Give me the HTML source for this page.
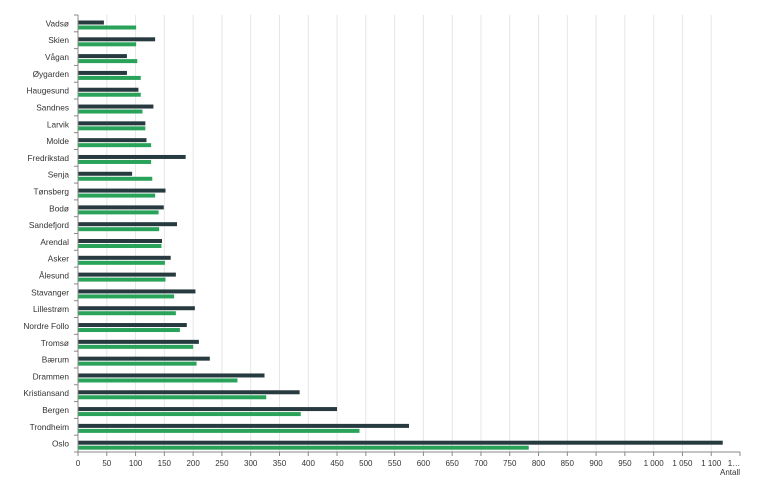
<!DOCTYPE html>
<html><head><meta charset="utf-8"><style>
body{margin:0;background:#fff;font-family:"Liberation Sans",sans-serif}
svg text{font-family:"Liberation Sans",sans-serif}
</style></head><body>
<svg width="768" height="486" viewBox="0 0 768 486" xmlns="http://www.w3.org/2000/svg">
<g id="grid"></g>
<g id="bars"></g>
<g id="yaxis"></g>
<g id="xaxis"></g>
<text x="740" y="475" font-size="8" fill="#333" text-anchor="end">Antall</text>
</svg>
<script>
const categories=["Vadsø","Skien","Vågan","Øygarden","Haugesund","Sandnes","Larvik","Molde","Fredrikstad","Senja","Tønsberg","Bodø","Sandefjord","Arendal","Asker","Ålesund","Stavanger","Lillestrøm","Nordre Follo","Tromsø","Bærum","Drammen","Kristiansand","Bergen","Trondheim","Oslo"];
const seriesDark=[45,134,85,85,105,131,117,119,187,94,152,149,172,146,161,170,204,203,189,210,229,324,385,450,575,1120];
const seriesGreen=[101,101,103,109,109,112,117,127,127,129,134,140,141,145,151,152,167,170,177,200,206,277,327,387,489,783];
const tickValues=[0,50,100,150,200,250,300,350,400,450,500,550,600,650,700,750,800,850,900,950,1000,1050,1100];
const tickLabels=["0","50","100","150","200","250","300","350","400","450","500","550","600","650","700","750","800","850","900","950","1 000","1 050","1 100"];
const NS="http://www.w3.org/2000/svg";
const x0=78,x1=740,maxV=1150,yTop=15,yBot=452;
const band=(yBot-yTop)/categories.length;
const xs=v=>x0+v/maxV*(x1-x0);
const yb=i=>yTop+i*band;
function mk(t,a,p){const e=document.createElementNS(NS,t);for(const k in a)e.setAttribute(k,a[k]);p.appendChild(e);return e;}
const grid=document.getElementById('grid'),bars=document.getElementById('bars'),ya=document.getElementById('yaxis'),xa=document.getElementById('xaxis');
tickValues.forEach((v,i)=>{
 if(v>0){const g=mk('line',{x1:xs(v),x2:xs(v),y1:yTop,y2:yBot,stroke:'#e6e6e6','stroke-width':1},grid);
 
 }
 const t=mk('line',{x1:xs(v),x2:xs(v),y1:yBot,y2:yBot+4,stroke:'#888'},xa);
 
 
 const l=mk('text',{x:xs(v),y:yBot+14,'font-size':8,fill:'#333','text-anchor':'middle'},xa);
 l.textContent=tickLabels[i];
 
 
});
const endL=mk('text',{x:x1-6,y:yBot+14,'font-size':8,fill:'#333','text-anchor':'middle'},xa);endL.textContent="1…";


mk('line',{x1:x1,x2:x1,y1:yBot,y2:yBot+4,stroke:'#888'},xa);
mk('line',{x1:x0,x2:x1,y1:yBot,y2:yBot,stroke:'#888'},xa);
mk('line',{x1:x0,x2:x0,y1:yTop,y2:yBot,stroke:'#888'},ya);
categories.forEach((c,i)=>{
 const y=yb(i);
 mk('line',{x1:x0-4,x2:x0,y1:y,y2:y,stroke:'#888'},ya);
 const t=mk('text',{x:69,y:y+band/2+3,'font-size':8.3,fill:'#333','text-anchor':'end'},ya);
 t.textContent=c;
 
 
 const d=mk('rect',{x:x0,y:y+5.5,width:xs(seriesDark[i])-x0,height:4,fill:'#263a3f'},bars);
 
 
 const g=mk('rect',{x:x0,y:y+10.5,width:xs(seriesGreen[i])-x0,height:4,fill:'#2aa35a'},bars);
 
 
});
mk('line',{x1:x0-4,x2:x0,y1:yBot,y2:yBot,stroke:'#888'},ya);
</script>
</body></html>
